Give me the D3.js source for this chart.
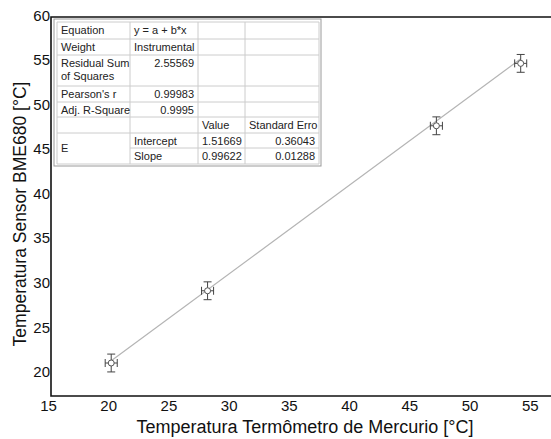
<!DOCTYPE html>
<html>
<head>
<meta charset="utf-8">
<script src="https://cdn.jsdelivr.net/npm/d3@7"></script>
<style>
  body { margin: 0; background: #fff; }
  svg { display: block; font-family: "Liberation Sans", Arial, sans-serif; }
</style>
</head>
<body>
<script>
// measured points (thermometer vs sensor)
const xVals = [20, 28, 47, 54];
const yVals = [21.2, 29.3, 47.8, 54.8];
const xErr = [0.5, 0.5, 0.5, 0.5];
const yErr = [1.0, 1.0, 1.0, 1.0];

// linear fit
const intercept = 1.51669;
const slope = 0.99622;

const xTicks = [15, 20, 25, 30, 35, 40, 45, 50, 55];
const yTicks = [20, 25, 30, 35, 40, 45, 50, 55, 60];

// fit report table
const tableRows = [
  ["Equation", "y = a + b*x", "", ""],
  ["Weight", "Instrumental", "", ""],
  ["Residual Sum\nof Squares", "2.55569", "", ""],
  ["Pearson's r", "0.99983", "", ""],
  ["Adj. R-Square", "0.9995", "", ""],
  ["", "", "Value", "Standard Erro"],
  ["E", "Intercept", "1.51669", "0.36043"],
  ["", "Slope", "0.99622", "0.01288"]
];

const width = 551, height = 439;

const svg = d3.select("body").append("svg")
  .attr("width", width)
  .attr("height", height);

const x = d3.scaleLinear().domain([15, 56.6]).range([51, 552]);
const y = d3.scaleLinear().domain([17.5, 60]).range([396, 17]);

// fit line
svg.append("line")
  .attr("x1", x(xVals[0])).attr("y1", y(intercept + slope * xVals[0]))
  .attr("x2", x(xVals[3])).attr("y2", y(intercept + slope * xVals[3]))
  .style("stroke", "#b4b4b4")
  .style("stroke-width", 1.2);

// error bars
const pts = svg.selectAll(".pt")
  .data(xVals.map((v, i) => ({ x: v, y: yVals[i], ex: xErr[i], ey: yErr[i] })))
  .enter().append("g")
  .attr("class", "pt");

const errColor = "#444";
pts.append("line") // vertical
  .attr("x1", d => x(d.x)).attr("x2", d => x(d.x))
  .attr("y1", d => y(d.y + d.ey)).attr("y2", d => y(d.y - d.ey))
  .style("stroke", errColor);
pts.append("line")
  .attr("x1", d => x(d.x) - 4).attr("x2", d => x(d.x) + 4)
  .attr("y1", d => y(d.y + d.ey)).attr("y2", d => y(d.y + d.ey))
  .style("stroke", errColor);
pts.append("line")
  .attr("x1", d => x(d.x) - 4).attr("x2", d => x(d.x) + 4)
  .attr("y1", d => y(d.y - d.ey)).attr("y2", d => y(d.y - d.ey))
  .style("stroke", errColor);
pts.append("line") // horizontal
  .attr("x1", d => x(d.x - d.ex)).attr("x2", d => x(d.x + d.ex))
  .attr("y1", d => y(d.y)).attr("y2", d => y(d.y))
  .style("stroke", errColor);
pts.append("line")
  .attr("x1", d => x(d.x - d.ex)).attr("x2", d => x(d.x - d.ex))
  .attr("y1", d => y(d.y) - 4).attr("y2", d => y(d.y) + 4)
  .style("stroke", errColor);
pts.append("line")
  .attr("x1", d => x(d.x + d.ex)).attr("x2", d => x(d.x + d.ex))
  .attr("y1", d => y(d.y) - 4).attr("y2", d => y(d.y) + 4)
  .style("stroke", errColor);
pts.append("circle")
  .attr("cx", d => x(d.x)).attr("cy", d => y(d.y))
  .attr("r", 3)
  .style("fill", "#fff")
  .style("stroke", "#555")
  .style("stroke-width", 1);

// axes (no tick marks, just labels)
const xAxis = svg.append("g")
  .attr("transform", `translate(0,${y(17.5)})`)
  .call(d3.axisBottom(x).tickValues(xTicks).tickSize(0).tickPadding(4));
xAxis.select(".domain").remove();
xAxis.selectAll("text")
  .attr("dx", -3)
  .style("font-size", "15px")
  .style("font-family", "Liberation Sans, Arial, sans-serif")
  .style("fill", "#111");

const yAxis = svg.append("g")
  .attr("transform", `translate(${x(15)},0)`)
  .call(d3.axisLeft(y).tickValues(yTicks).tickSize(0).tickPadding(1));
yAxis.select(".domain").remove();
yAxis.selectAll("text")
  .attr("dy", "0.2em")
  .style("font-size", "15px")
  .style("font-family", "Liberation Sans, Arial, sans-serif")
  .style("fill", "#111");

// frame lines
svg.append("path")
  .attr("d", `M${width},${y(60)}H${x(15)}V${y(17.5)}H${width}`)
  .style("fill", "none")
  .style("stroke", "#111")
  .style("stroke-width", 1.6);

// axis titles
svg.append("text")
  .attr("x", 305).attr("y", 433)
  .attr("text-anchor", "middle")
  .style("font-size", "18px")
  .style("fill", "#111")
  .text("Temperatura Termômetro de Mercurio [°C]");

svg.append("text")
  .attr("transform", "translate(26,214) rotate(-90)")
  .attr("text-anchor", "middle")
  .style("font-size", "17.5px")
  .style("fill", "#111")
  .text("Temperatura Sensor BME680 [°C]");

// table
const colX = [57, 130, 198, 245, 319];
const rowH = [17, 16, 31, 16, 15, 16, 15, 16];
const rowY = [22];
rowH.forEach((h, i) => rowY.push(rowY[i] + h));

const tbl = svg.append("g").attr("class", "fit-table");
tbl.append("rect")
  .attr("x", colX[0] - 3).attr("y", rowY[0] - 3)
  .attr("width", colX[4] - colX[0] + 5)
  .attr("height", rowY[8] - rowY[0] + 5)
  .style("fill", "#fff")
  .style("stroke", "#999");

// horizontal cell lines
rowY.forEach((yy, i) => {
  // merged "E" cell: no line between Intercept and Slope in first col
  const x0 = i === 7 ? colX[1] : colX[0];
  tbl.append("line")
    .attr("x1", x0).attr("x2", colX[4])
    .attr("y1", yy).attr("y2", yy)
    .style("stroke", "#ccc");
});
colX.forEach(xx => {
  tbl.append("line")
    .attr("x1", xx).attr("x2", xx)
    .attr("y1", rowY[0]).attr("y2", rowY[8])
    .style("stroke", "#ccc");
});

const rightAlign = new Set(["2.55569", "0.99983", "0.9995", "0.36043", "0.01288"]);
tableRows.forEach((row, r) => {
  row.forEach((cell, c) => {
    if (!cell) return;
    const lines = cell.split("\n");
    let ty = rowY[r] + 12;
    if (cell === "E") ty = rowY[r] + rowH[r] + 4;
    const right = rightAlign.has(cell);
    const t = tbl.append("text")
      .attr("x", right ? colX[c + 1] - 4 : colX[c] + 4)
      .attr("y", ty)
      .attr("text-anchor", right ? "end" : "start")
      .style("font-size", "11px")
      .style("fill", "#222");
    lines.forEach((ln, k) => {
      t.append("tspan")
        .attr("x", right ? colX[c + 1] - 4 : colX[c] + 4)
        .attr("dy", k === 0 ? 0 : 13)
        .text(ln);
    });
  });
});
</script>
</body>
</html>
